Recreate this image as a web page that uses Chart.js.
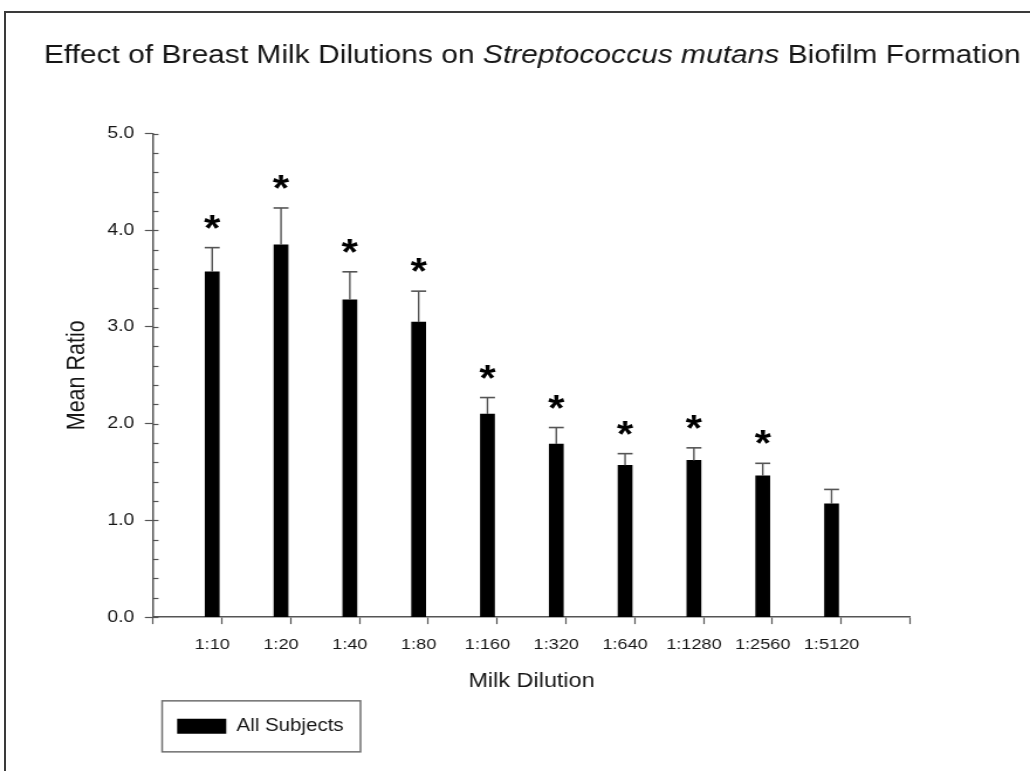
<!DOCTYPE html>
<html>
<head>
<meta charset="utf-8">
<script src="https://cdn.jsdelivr.net/npm/chart.js@4.4.1/dist/chart.umd.min.js"></script>
<style>
html, body { margin: 0; padding: 0; background: #fff; }
#wrap { position: relative; width: 1030px; height: 771px; overflow: hidden; background: #fff; }
#c { position: absolute; left: 0; top: 0; display: block; }
#frame { position: absolute; left: 4px; top: 11px; right: -10px; bottom: -10px;
         border-top: 2px solid #3a3a3a; border-left: 2px solid #3a3a3a; pointer-events: none; }
</style>
</head>
<body>
<div id="wrap">
  <canvas id="c" width="880" height="771" style="width:1030px;height:771px"></canvas>
  <div id="frame"></div>
</div>
<script>
// ---------------- data ----------------
const titleStart = 'Effect of Breast Milk Dilutions on ';
const titleSpecies = 'Streptococcus mutans';
const titleEnd = ' Biofilm Formation';
const categories = ['1:10', '1:20', '1:40', '1:80', '1:160', '1:320', '1:640', '1:1280', '1:2560', '1:5120'];
const meanRatio = [3.57, 3.85, 3.28, 3.05, 2.10, 1.79, 1.57, 1.62, 1.46, 1.17];
const errorUp = [0.25, 0.38, 0.29, 0.32, 0.17, 0.17, 0.12, 0.13, 0.13, 0.15];
const significant = [true, true, true, true, true, true, true, true, true, false];
const yTickValues = [0, 1, 2, 3, 4, 5];
const yTickLabels = ['0.0', '1.0', '2.0', '3.0', '4.0', '5.0'];
const seriesName = 'All Subjects';
const xAxisTitle = 'Milk Dilution';
const yAxisTitle = 'Mean Ratio';

// ---------------- layout / style ----------------
const SX = 1030 / 880;                 // horizontal stretch of the canvas
const FONT = "'Liberation Sans', Arial, Helvetica, sans-serif";
const BAR_POS = 0.86;                  // bar position inside each slot
const SLOTS = categories.length + 1;   // axis spans one extra empty slot
const MINOR_STEP = 0.2;
const AXIS_LEFT = 153 / SX;
const AXIS_RIGHT = 910 / SX;
const AXIS_COLOR = '#555';
const TEXT_COLOR = '#161616';
const LEGEND_FONT_SIZE = 17.5;
const LEGEND_BOX_W = 42;

const xTickPositions = [];
for (let k = 0; k <= SLOTS; k++) xTickPositions.push(k);
categories.forEach((_, i) => xTickPositions.push(i + BAR_POS));
xTickPositions.sort((a, b) => a - b);
const isBoundary = v => v !== undefined && Math.abs(v - Math.round(v)) < 1e-9;
const labelFor = v => {
  const i = categories.findIndex((_, j) => Math.abs(v - (j + BAR_POS)) < 1e-6);
  return i >= 0 ? categories[i] : '';
};

// ---------------- plugins ----------------
const titlePlugin = {
  id: 'mixedTitle',
  afterDraw(chart) {
    const ctx = chart.ctx;
    ctx.save();
    ctx.fillStyle = TEXT_COLOR;
    ctx.textBaseline = 'alphabetic';
    ctx.textAlign = 'left';
    let x = 37.5;
    const y = 62.5;
    const parts = [[titleStart, ''], [titleSpecies, 'italic '], [titleEnd, '']];
    parts.forEach(([t, st]) => {
      ctx.font = st + '25.6px ' + FONT;
      ctx.fillText(t, x, y);
      x += ctx.measureText(t).width;
    });
    ctx.restore();
  }
};

const minorTicksPlugin = {
  id: 'minorTicks',
  afterDraw(chart) {
    const ys = chart.scales.y;
    const ctx = chart.ctx;
    const x0 = chart.chartArea.left;
    ctx.save();
    ctx.strokeStyle = AXIS_COLOR;
    ctx.lineWidth = 1.2;
    const n = Math.round((ys.max - ys.min) / MINOR_STEP);
    for (let k = 0; k <= n; k++) {
      const py = Math.round(ys.getPixelForValue(ys.min + k * MINOR_STEP)) + 0.5;
      ctx.beginPath();
      ctx.moveTo(x0, py);
      ctx.lineTo(x0 + 4.7, py);
      ctx.stroke();
    }
    ctx.restore();
  }
};

const errorBarPlugin = {
  id: 'errorBars',
  afterDatasetsDraw(chart) {
    const meta = chart.getDatasetMeta(0);
    const ys = chart.scales.y;
    const ctx = chart.ctx;
    ctx.save();
    ctx.strokeStyle = '#555';
    ctx.fillStyle = '#000';
    meta.data.forEach((bar, i) => {
      const cx = bar.x;
      const yTop = ys.getPixelForValue(meanRatio[i]);
      const yCap = ys.getPixelForValue(meanRatio[i] + errorUp[i]);
      const half = 6.4;
      ctx.lineWidth = 1.4;
      ctx.beginPath();
      ctx.moveTo(cx, yTop);
      ctx.lineTo(cx, yCap);
      ctx.stroke();
      ctx.lineWidth = 1.6;
      ctx.beginPath();
      ctx.moveTo(cx - half, yCap);
      ctx.lineTo(cx + half, yCap);
      ctx.stroke();
      if (significant[i]) {
        ctx.font = 'bold 36px ' + FONT;
        ctx.textAlign = 'center';
        ctx.textBaseline = 'alphabetic';
        ctx.fillText('*', cx, yCap - 7);
      }
    });
    ctx.restore();
  }
};

const legendFramePlugin = {
  id: 'legendFrame',
  afterDraw(chart) {
    const lg = chart.legend;
    if (!lg || !lg.legendHitBoxes || !lg.legendHitBoxes.length) return;
    const hb = lg.legendHitBoxes[0];
    const cy = hb.top + hb.height / 2;
    const ctx = chart.ctx;
    ctx.save();
    ctx.font = LEGEND_FONT_SIZE + 'px ' + FONT;
    const textW = ctx.measureText(seriesName).width;
    ctx.strokeStyle = '#6f6f6f';
    ctx.lineWidth = 1.5;
    const left = hb.left - 12.8;
    const right = hb.left + LEGEND_BOX_W + LEGEND_FONT_SIZE / 2 + textW + 14.5;
    ctx.strokeRect(left, cy - 25.5, right - left, 51);
    ctx.restore();
  }
};

// ---------------- chart ----------------
Chart.defaults.font.family = FONT;

new Chart(document.getElementById('c'), {
  type: 'bar',
  data: {
    datasets: [{
      label: seriesName,
      data: meanRatio.map((v, i) => ({ x: i + BAR_POS, y: v })),
      backgroundColor: '#000',
      borderColor: '#000',
      borderWidth: 0,
      barThickness: 12
    }]
  },
  options: {
    responsive: false,
    animation: false,
    devicePixelRatio: 1,
    events: [],
    layout: { padding: { left: 0, right: 880 - AXIS_RIGHT, top: 133.5, bottom: 25.9 } },
    plugins: {
      title: { display: false },
      tooltip: { enabled: false },
      legend: {
        display: true,
        position: 'bottom',
        align: 'start',
        fullSize: false,
        labels: {
          boxWidth: LEGEND_BOX_W,
          boxHeight: 15,
          padding: 20.6,
          color: TEXT_COLOR,
          font: { family: FONT, size: LEGEND_FONT_SIZE }
        }
      }
    },
    scales: {
      x: {
        type: 'linear',
        min: 0,
        max: SLOTS,
        offset: false,
        grid: {
          display: true,
          offset: false,
          drawOnChartArea: false,
          drawTicks: true,
          tickLength: 7,
          tickWidth: 1.2,
          tickColor: c => isBoundary(c.tick && c.tick.value) ? AXIS_COLOR : 'rgba(0,0,0,0)'
        },
        border: { display: true, color: AXIS_COLOR, width: 1.5 },
        ticks: {
          autoSkip: false,
          maxRotation: 0,
          minRotation: 0,
          padding: 11.5,
          color: TEXT_COLOR,
          font: { family: FONT, size: 15.5 },
          callback: v => labelFor(v)
        },
        title: {
          display: true,
          text: xAxisTitle,
          color: TEXT_COLOR,
          font: { family: FONT, size: 20 },
          padding: { top: 0, bottom: 3.4 }
        },
        afterBuildTicks: s => { s.ticks = xTickPositions.map(v => ({ value: v })); },
        afterFit: s => { s.height = 79.9; }
      },
      y: {
        type: 'linear',
        min: 0,
        max: 5,
        grid: {
          display: true,
          drawOnChartArea: false,
          drawTicks: true,
          tickLength: 7,
          tickWidth: 1.2,
          tickColor: AXIS_COLOR
        },
        border: { display: true, color: AXIS_COLOR, width: 1.5 },
        ticks: {
          autoSkip: false,
          padding: 9,
          color: TEXT_COLOR,
          font: { family: FONT, size: 16.5 },
          callback: v => { const i = yTickValues.indexOf(v); return i >= 0 ? yTickLabels[i] : ''; }
        },
        title: {
          display: true,
          text: yAxisTitle,
          color: TEXT_COLOR,
          font: { family: FONT, size: 21.5 },
          padding: { top: 53, bottom: 0 }
        },
        afterBuildTicks: s => { s.ticks = yTickValues.map(v => ({ value: v })); },
        afterFit: s => { s.width = AXIS_LEFT; }
      }
    }
  },
  plugins: [titlePlugin, minorTicksPlugin, errorBarPlugin, legendFramePlugin]
});
</script>
</body>
</html>
